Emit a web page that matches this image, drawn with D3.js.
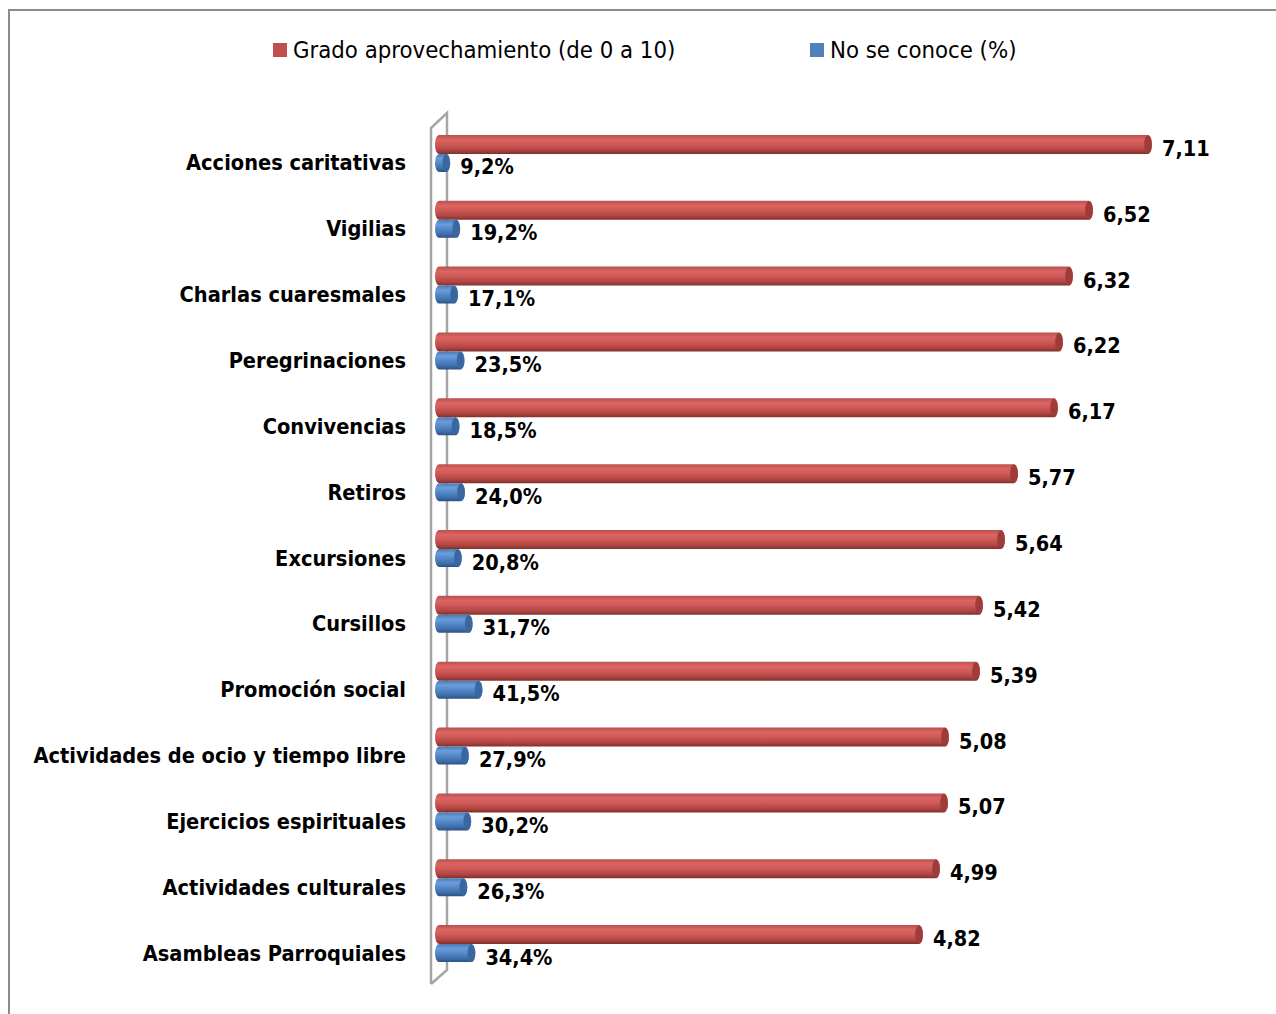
<!DOCTYPE html>
<html>
<head>
<meta charset="utf-8">
<script src="https://cdn.jsdelivr.net/npm/d3@7"></script>
<style>
  body { margin: 0; background: #fff; }
  svg { display: block; }
  text { font-family: "Liberation Sans Narrow", "DejaVu Sans Condensed", sans-serif; fill: #000; }
</style>
</head>
<body>
<div id="chart"></div>
<script>
'use strict';

// ---------- Data ---------- //
var categories = [
  'Acciones caritativas', 'Vigilias', 'Charlas cuaresmales', 'Peregrinaciones',
  'Convivencias', 'Retiros', 'Excursiones', 'Cursillos', 'Promoción social',
  'Actividades de ocio y tiempo libre', 'Ejercicios espirituales',
  'Actividades culturales', 'Asambleas Parroquiales'
];
var grado = [7.11, 6.52, 6.32, 6.22, 6.17, 5.77, 5.64, 5.42, 5.39, 5.08, 5.07, 4.99, 4.82];
var noConoce = [9.2, 19.2, 17.1, 23.5, 18.5, 24.0, 20.8, 31.7, 41.5, 27.9, 30.2, 26.3, 34.4];
var seriesNames = ['Grado aprovechamiento (de 0 a 10)', 'No se conoce (%)'];

// ---------- Setup ---------- //
var width = 1276;
var height = 1014;

var svg = d3.select('#chart').append('svg')
  .attr('width', width)
  .attr('height', height);

var loc = d3.formatLocale({ decimal: ',', thousands: '.', grouping: [3], currency: ['', '€'] });
var fmtGrado = loc.format('.2f');
var fmtPct = loc.format('.1f');

var x = d3.scaleLinear().domain([0, 8]).range([441, 1241]);
var y = d3.scaleBand().domain(categories).range([129, 985]);

// gradients for the cylinders
var defs = svg.append('defs');
function cylGradient(id, stops) {
  var g = defs.append('linearGradient').attr('id', id)
    .attr('x1', 0).attr('y1', 0).attr('x2', 0).attr('y2', 1);
  stops.forEach(function (s) {
    g.append('stop').attr('offset', s[0]).attr('stop-color', s[1]);
  });
}
cylGradient('gRed', [[0, '#b8504d'], [0.25, '#dc6563'], [0.5, '#cf5956'], [0.8, '#b04542'], [1, '#7f2f2d']]);
cylGradient('gBlue', [[0, '#4a7ab5'], [0.25, '#6b9ddb'], [0.5, '#5489c9'], [0.8, '#3f6fab'], [1, '#2b5183']]);

// chart border
svg.append('path')
  .attr('d', 'M9,1014V10H1276')
  .attr('fill', 'none')
  .attr('stroke', '#8c8c8c')
  .attr('stroke-width', 2);

// 3D side wall
svg.append('path')
  .attr('d', 'M431,984V128L447,113V970L431,984')
  .attr('fill', 'none')
  .attr('stroke', '#a6a6a6')
  .attr('stroke-width', 2.5);

// ---------- Legend ---------- //
var legend = svg.append('g');
var legendX = [273, 810];
var legendColors = ['#c0504d', '#4f81bd'];
seriesNames.forEach(function (name, i) {
  legend.append('rect')
    .attr('x', legendX[i]).attr('y', 43)
    .attr('width', 14).attr('height', 14)
    .attr('fill', legendColors[i]);
  legend.append('text')
    .attr('x', legendX[i] + 20).attr('y', 50)
    .attr('dominant-baseline', 'central')
    .style('font-size', '23.7px')
    .text(name);
});

// ---------- Category labels ---------- //
svg.append('g').selectAll('text')
  .data(categories)
  .enter().append('text')
  .attr('x', 406)
  .attr('y', function (d) { return y(d) + y.bandwidth() / 2 + 1; })
  .attr('text-anchor', 'end')
  .attr('dominant-baseline', 'central')
  .style('font-size', '21.6px')
  .style('font-weight', 'bold')
  .text(function (d) { return d; });

// ---------- Bars ---------- //
function drawCylinders(values, scaleValue, offset, h, grad, capColor, fmt, suffix) {
  var g = svg.append('g');
  var rows = g.selectAll('g')
    .data(values)
    .enter().append('g')
    .attr('transform', function (d, i) {
      return 'translate(0,' + (y(categories[i]) + y.bandwidth() / 2 + offset) + ')';
    });

  rows.append('rect')
    .attr('x', x(0) - 6)
    .attr('y', 0)
    .attr('width', function (d) { return x(scaleValue(d)) - x(0) + 6; })
    .attr('height', h)
    .attr('rx', 4).attr('ry', h / 2)
    .attr('fill', 'url(#' + grad + ')');

  rows.append('ellipse')
    .attr('cx', function (d) { return x(scaleValue(d)) - 4; })
    .attr('cy', h / 2)
    .attr('rx', 3.5)
    .attr('ry', h / 2 - 0.5)
    .attr('fill', capColor)
    .attr('stroke', capColor)
    .attr('stroke-opacity', 0.6);

  rows.append('text')
    .attr('x', function (d) { return x(scaleValue(d)) + 10; })
    .attr('y', h / 2 + 4)
    .attr('dominant-baseline', 'central')
    .style('font-size', '21.5px')
    .style('font-weight', 'bold')
    .text(function (d) { return fmt(d) + suffix; });
}

drawCylinders(grado, function (d) { return d; }, -27, 19, 'gRed', '#9e3c3a', fmtGrado, '');
drawCylinders(noConoce, function (d) { return d / 100; }, -8, 18, 'gBlue', '#3a67a0', fmtPct, '%');
</script>
</body>
</html>
